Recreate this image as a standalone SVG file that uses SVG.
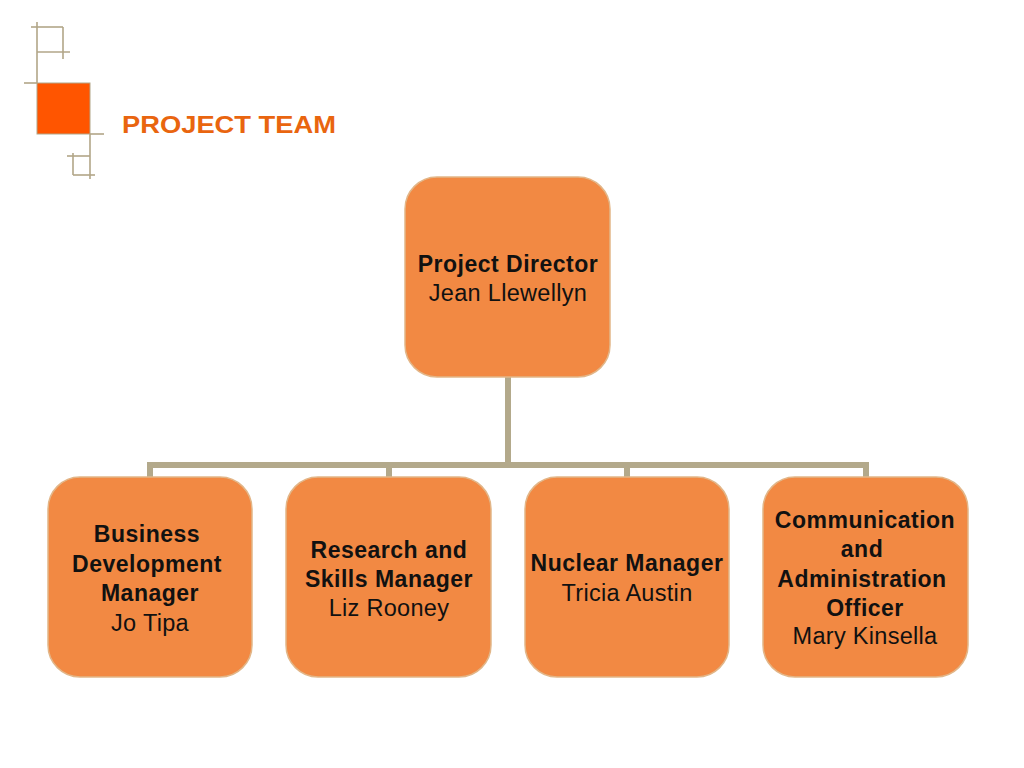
<svg xmlns="http://www.w3.org/2000/svg" width="1024" height="768" viewBox="0 0 1024 768">
<style>
.logo line{stroke:#B2A688;stroke-width:1.6}
.box{fill:#F28943;stroke:#E2B688;stroke-width:1.5}
.conn{stroke:#B3A98B;stroke-width:6;fill:none;stroke-linecap:butt}
text{font-family:"Liberation Sans",Arial,sans-serif;font-size:23.5px;fill:#111;text-anchor:middle;letter-spacing:0.3px}
.b{font-weight:bold;font-size:23px;letter-spacing:0.5px}
.title{font-weight:bold;fill:#E9650F;font-size:24px;text-anchor:start;letter-spacing:0}
</style>
<rect width="1024" height="768" fill="#fff"/>
<g id="logo" class="logo">
<line x1="37" y1="22" x2="37" y2="83"/>
<line x1="31" y1="27" x2="63" y2="27"/>
<line x1="63" y1="27" x2="63" y2="59"/>
<line x1="37" y1="52" x2="70" y2="52"/>
<line x1="24" y1="83" x2="37" y2="83"/>
<rect x="37" y="83" width="53" height="51" fill="#FF5500" stroke="#B2A688" stroke-width="1"/>
<line x1="90" y1="134" x2="104" y2="134"/>
<line x1="90" y1="134" x2="90" y2="179"/>
<line x1="67" y1="156" x2="90" y2="156"/>
<line x1="73" y1="153" x2="73" y2="175"/>
<line x1="73" y1="175" x2="95" y2="175"/>
</g>
<text class="title" x="122" y="133" textLength="214" lengthAdjust="spacingAndGlyphs">PROJECT TEAM</text>
<g id="connectors">
<path class="conn" d="M508 377 V465 M150 465 H866 M150 462 V477 M389 462 V477 M627 462 V477 M866 462 V477"/>
</g>
<g id="director">
<rect class="box" x="405" y="177" width="205" height="200" rx="32"/>
<text class="b" x="508" y="272">Project Director</text>
<text x="508" y="301">Jean Llewellyn</text>
</g>
<g id="business">
<rect class="box" x="48" y="477" width="204" height="200" rx="32"/>
<text class="b" x="147" y="542">Business</text>
<text class="b" x="147" y="572">Development</text>
<text class="b" x="150" y="601">Manager</text>
<text x="150" y="631">Jo Tipa</text>
</g>
<g id="research">
<rect class="box" x="286" y="477" width="205" height="200" rx="32"/>
<text class="b" x="389" y="558">Research and</text>
<text class="b" x="389" y="587">Skills Manager</text>
<text x="389" y="616">Liz Rooney</text>
</g>
<g id="nuclear">
<rect class="box" x="525" y="477" width="204" height="200" rx="32"/>
<text class="b" x="627" y="571">Nuclear Manager</text>
<text x="627" y="601">Tricia Austin</text>
</g>
<g id="communication">
<rect class="box" x="763" y="477" width="205" height="200" rx="32"/>
<text class="b" x="865" y="528">Communication</text>
<text class="b" x="862" y="557">and</text>
<text class="b" x="862" y="587">Administration</text>
<text class="b" x="865" y="616">Officer</text>
<text x="865" y="644">Mary Kinsella</text>
</g>
</svg>
